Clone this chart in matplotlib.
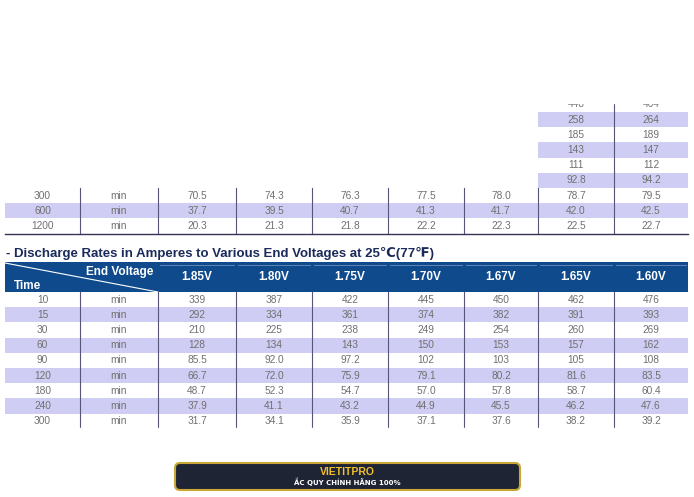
import matplotlib.pyplot as plt
from matplotlib.patches import Rectangle, FancyBboxPatch

voltages = ['1.85V', '1.80V', '1.75V', '1.70V', '1.67V', '1.65V', '1.60V']

# upper (cut) table: last two columns only for the partial rows
upper_partial = [['448', '464'], ['258', '264'], ['185', '189'], ['143', '147'],
                 ['111', '112'], ['92.8', '94.2']]
upper_times = ['300', '600', '1200']
upper_rows = [['70.5', '74.3', '76.3', '77.5', '78.0', '78.7', '79.5'],
              ['37.7', '39.5', '40.7', '41.3', '41.7', '42.0', '42.5'],
              ['20.3', '21.3', '21.8', '22.2', '22.3', '22.5', '22.7']]

times = ['10', '15', '30', '60', '90', '120', '180', '240', '300', '360']
rows = [['339', '387', '422', '445', '450', '462', '476'],
        ['292', '334', '361', '374', '382', '391', '393'],
        ['210', '225', '238', '249', '254', '260', '269'],
        ['128', '134', '143', '150', '153', '157', '162'],
        ['85.5', '92.0', '97.2', '102', '103', '105', '108'],
        ['66.7', '72.0', '75.9', '79.1', '80.2', '81.6', '83.5'],
        ['48.7', '52.3', '54.7', '57.0', '57.8', '58.7', '60.4'],
        ['37.9', '41.1', '43.2', '44.9', '45.5', '46.2', '47.6'],
        ['31.7', '34.1', '35.9', '37.1', '37.6', '38.2', '39.2'],
        ['26.6', '28.6', '30.1', '31.0', '31.5', '32.0', '32.8']]

W, H = 694, 497
fig = plt.figure(figsize=(W / 100, H / 100), dpi=100)
ax = fig.add_axes([0, 0, 1, 1])
ax.set_xlim(0, W)
ax.set_ylim(H, 0)
ax.axis('off')

xs = [5, 80, 158, 236, 312, 388, 464, 538, 614, 688]
shade = '#cfcdf3'
txt = '#707070'
rh = 15.2
fs = 7.3


def cell_text(x0, x1, y, s):
    ax.text((x0 + x1) / 2, y, s, ha='center', va='center', fontsize=fs,
            color=txt, family='Liberation Sans')


# upper partial rows (clipped at top)
y0 = 188 - rh * len(upper_partial)
for i, r in enumerate(upper_partial):
    yt = y0 + i * rh
    if i % 2 == 1:
        ax.add_patch(Rectangle((xs[7], yt), xs[9] - xs[7], rh, color=shade, lw=0))
    for j, v in enumerate(r):
        cell_text(xs[7 + j], xs[8 + j], yt + rh / 2, v)
ax.plot([xs[8], xs[8]], [y0, 188], color='#555577', lw=0.8)
ax.add_patch(Rectangle((0, 0), W, 103, color='white', zorder=5))

for i, (t, r) in enumerate(zip(upper_times, upper_rows)):
    yt = 188 + i * rh
    if i % 2 == 1:
        ax.add_patch(Rectangle((xs[0], yt), xs[9] - xs[0], rh, color=shade, lw=0))
    cell_text(xs[0], xs[1], yt + rh / 2, t)
    cell_text(xs[1], xs[2], yt + rh / 2, 'min')
    for j, v in enumerate(r):
        cell_text(xs[2 + j], xs[3 + j], yt + rh / 2, v)
yb = 188 + 3 * rh
for x in xs[1:-1]:
    ax.plot([x, x], [188, yb], color='#555577', lw=0.8)
ax.plot([xs[0], xs[9]], [yb, yb], color='#333355', lw=1)

ax.text(6, 253, '- Discharge Rates in Amperes to Various End Voltages at 25\u2103(77\u2109)',
        ha='left', va='center', fontsize=9.5, fontweight='bold', color='#1a2a5a',
        family=['Liberation Sans', 'DejaVu Sans'])

# header
hy0, hy1 = 262, 292
ax.add_patch(Rectangle((xs[0], hy0), xs[9] - xs[0], hy1 - hy0, color='#0e4a8c', lw=0))
ax.plot([xs[0], xs[2]], [hy0 + 1, hy1], color='white', lw=0.8)
ax.text(120, 272, 'End Voltage', ha='center', va='center', fontsize=8.5,
        fontweight='bold', color='white', family='Liberation Sans')
ax.text(28, 286, 'Time', ha='center', va='center', fontsize=8.5,
        fontweight='bold', color='white', family='Liberation Sans')
for j, v in enumerate(voltages):
    ax.plot([xs[2 + j] + 2, xs[3 + j] - 2], [265, 265], color='#6f8fbf', lw=0.6)
    ax.text((xs[2 + j] + xs[3 + j]) / 2, 277, v, ha='center', va='center',
            fontsize=8.5, fontweight='bold', color='white', family='Liberation Sans')

# body rows
by = 292
for i, (t, r) in enumerate(zip(times, rows)):
    yt = by + i * rh
    if i % 2 == 1:
        ax.add_patch(Rectangle((xs[0], yt), xs[9] - xs[0], rh, color=shade, lw=0))
    cell_text(xs[0], xs[1], yt + rh / 2, t)
    cell_text(xs[1], xs[2], yt + rh / 2, 'min')
    for j, v in enumerate(r):
        cell_text(xs[2 + j], xs[3 + j], yt + rh / 2, v)
for x in xs[1:-1]:
    ax.plot([x, x], [hy1, 428], color='#555577', lw=0.8)
ax.add_patch(Rectangle((0, 428), W, 30, color='white', zorder=5))

# badge
ax.add_patch(FancyBboxPatch((175, 463), 345, 27, boxstyle='round,pad=0,rounding_size=5',
                            fc='#1e2433', ec='#c9a635', lw=1.5, zorder=6))
ax.text(347, 472, 'VIETITPRO', ha='center', va='center', fontsize=7.5,
        fontweight='bold', color='#f2c12e', family='Liberation Sans', zorder=7)
ax.text(347, 482, '\u1eaeC QUY CH\u00cdNH H\u00c3NG 100%', ha='center', va='center',
        fontsize=5, fontweight='bold', color='white', family='DejaVu Sans', zorder=7)

fig.savefig('out.png', dpi=100)
